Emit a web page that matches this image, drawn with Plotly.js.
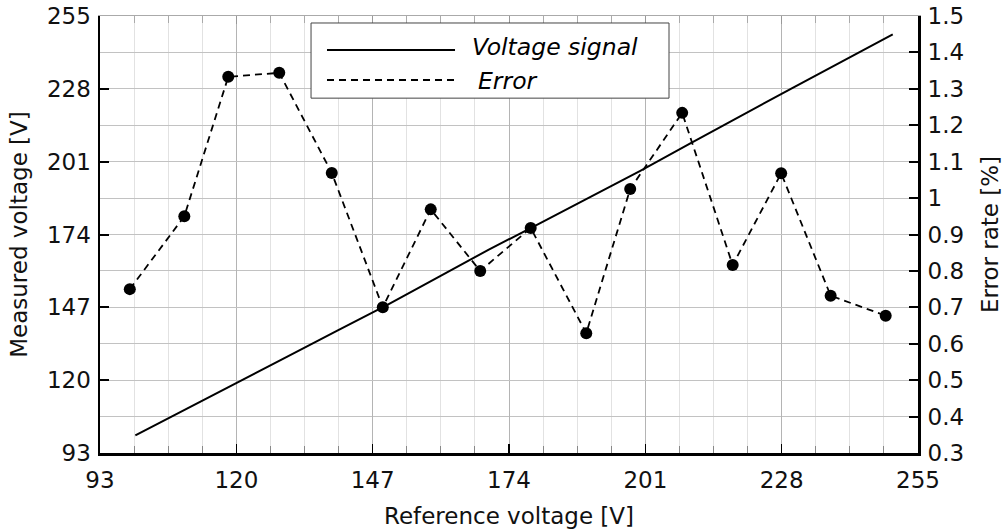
<!DOCTYPE html>
<html>
<head>
<meta charset="utf-8">
<script src="https://cdn.plot.ly/plotly-3.0.1.min.js"></script>
<style>html,body{margin:0;padding:0;background:#fff;}#chart{width:1005px;height:530px;}</style>
</head>
<body>
<div id="chart"></div>
<script>
// Voltage signal (reference vs measured)
const refVoltage = [100, 110, 120, 130, 140, 150, 160, 170, 180, 190, 200, 210, 220, 230, 240, 250];
const measuredVoltage = [99.5, 109.1, 118.8, 128.6, 138.4, 148.0, 158.2, 168.4, 178.0, 187.7, 197.6, 207.9, 218.2, 228.2, 238.2, 248.2];
// Error rate points
const errRef = [98.9, 109.7, 118.4, 128.5, 138.9, 149.0, 158.5, 168.3, 178.3, 189.3, 198.0, 208.3, 218.3, 227.9, 237.7, 248.6];
const errRate = [0.75, 0.95, 1.333, 1.344, 1.069, 0.70, 0.969, 0.80, 0.918, 0.629, 1.025, 1.234, 0.816, 1.068, 0.732, 0.677];
const voltTicks = [93, 120, 147, 174, 201, 228, 255];
const errTicks = [0.3, 0.4, 0.5, 0.6, 0.7, 0.8, 0.9, 1, 1.1, 1.2, 1.3, 1.4, 1.5];
const legendNames = ['Voltage signal', 'Error'];

const FONT = 'DejaVu Sans, Liberation Sans, Arial, sans-serif';
const tickFont = {family: FONT, size: 23, color: '#111'};
const titleFont = {family: FONT, size: 23, color: '#111'};
const DASH = '7px,5px';

const traces = [
  {x: refVoltage, y: measuredVoltage, type: 'scatter', mode: 'lines', name: legendNames[0],
   line: {color: '#000', width: 2}, xaxis: 'x', yaxis: 'y', showlegend: false, hoverinfo: 'skip'},
  {x: errRef, y: errRate, type: 'scatter', mode: 'lines+markers', name: legendNames[1],
   line: {color: '#000', width: 1.8, dash: DASH}, marker: {color: '#000', size: 12},
   xaxis: 'x', yaxis: 'y2', showlegend: false, hoverinfo: 'skip'},
  {x: [], y: [], type: 'scatter', xaxis: 'x2', yaxis: 'y', showlegend: false}
];

const lx0 = 0.2775, lx1 = 0.434;
const layout = {
  width: 1005, height: 530,
  margin: {l: 100, r: 87, t: 16, b: 77},
  paper_bgcolor: '#fff', plot_bgcolor: '#fff',
  showlegend: false,
  xaxis: {
    range: [93, 255], tickvals: voltTicks, ticktext: voltTicks.map(String),
    showgrid: true, gridcolor: '#b4b4b4', gridwidth: 1,
    ticks: 'inside', ticklen: 9, tickwidth: 1.5, tickcolor: '#000',
    showline: true, linecolor: '#000', linewidth: 2.5,
    zeroline: false, tickfont: tickFont, ticklabelstandoff: 5,
    minor: {dtick: 6.75, tick0: 93, showgrid: true, gridcolor: '#e2e2e2', ticks: 'inside', ticklen: 7, tickcolor: '#888', tickwidth: 1},
    title: {text: 'Reference voltage [V]', font: titleFont, standoff: 16}
  },
  xaxis2: {
    range: [93, 255], overlaying: 'x', side: 'top', anchor: 'y',
    tickvals: voltTicks, showticklabels: false, showgrid: false, zeroline: false,
    ticks: 'inside', ticklen: 8, tickcolor: '#999', tickwidth: 1,
    showline: true, linecolor: '#aaa', linewidth: 1.5,
    minor: {dtick: 6.75, tick0: 93, showgrid: false, ticks: 'inside', ticklen: 7, tickcolor: '#aaa'}
  },
  yaxis: {
    range: [93, 255], tickvals: voltTicks, ticktext: voltTicks.map(String),
    showgrid: true, gridcolor: '#c2c2c2', gridwidth: 1,
    ticks: 'inside', ticklen: 9, tickwidth: 2, tickcolor: '#000',
    showline: true, linecolor: '#000', linewidth: 2.5,
    zeroline: false, tickfont: tickFont, ticklabelstandoff: 2,
    minor: {dtick: 13.5, tick0: 93, showgrid: true, gridcolor: '#c2c2c2', ticks: ''},
    title: {text: 'Measured voltage [V]', font: titleFont, standoff: 13}
  },
  yaxis2: {
    range: [0.3, 1.5], tickvals: errTicks, ticktext: errTicks.map(String),
    overlaying: 'y', side: 'right', anchor: 'x',
    showgrid: false, zeroline: false,
    ticks: 'inside', ticklen: 9, tickwidth: 2, tickcolor: '#000',
    showline: true, linecolor: '#000', linewidth: 3,
    tickfont: tickFont, ticklabelstandoff: 2,
    title: {text: 'Error rate [%]', font: titleFont, standoff: 19}
  },
  shapes: [
    {type: 'rect', xref: 'paper', yref: 'paper', x0: 0.258, x1: 0.6956, y0: 0.812, y1: 0.984,
     line: {color: '#444', width: 1}, fillcolor: '#fff', layer: 'above'},
    {type: 'line', xref: 'paper', yref: 'paper', x0: lx0, x1: lx1, y0: 0.922, y1: 0.922,
     line: {color: '#000', width: 2}, layer: 'above'},
    {type: 'line', xref: 'paper', yref: 'paper', x0: lx0, x1: lx1, y0: 0.8535, y1: 0.8535,
     line: {color: '#000', width: 1.8, dash: DASH}, layer: 'above'}
  ],
  annotations: [
    {xref: 'paper', yref: 'paper', x: 0.452, y: 0.929, xanchor: 'left', yanchor: 'middle', showarrow: false,
     text: '<i>' + legendNames[0] + '</i>', font: {family: FONT, size: 23.5, color: '#000'}},
    {xref: 'paper', yref: 'paper', x: 0.46, y: 0.851, xanchor: 'left', yanchor: 'middle', showarrow: false,
     text: '<i>' + legendNames[1] + '</i>', font: {family: FONT, size: 23.5, color: '#000'}}
  ]
};

Plotly.newPlot('chart', traces, layout, {staticPlot: true, displayModeBar: false});
</script>
</body>
</html>
